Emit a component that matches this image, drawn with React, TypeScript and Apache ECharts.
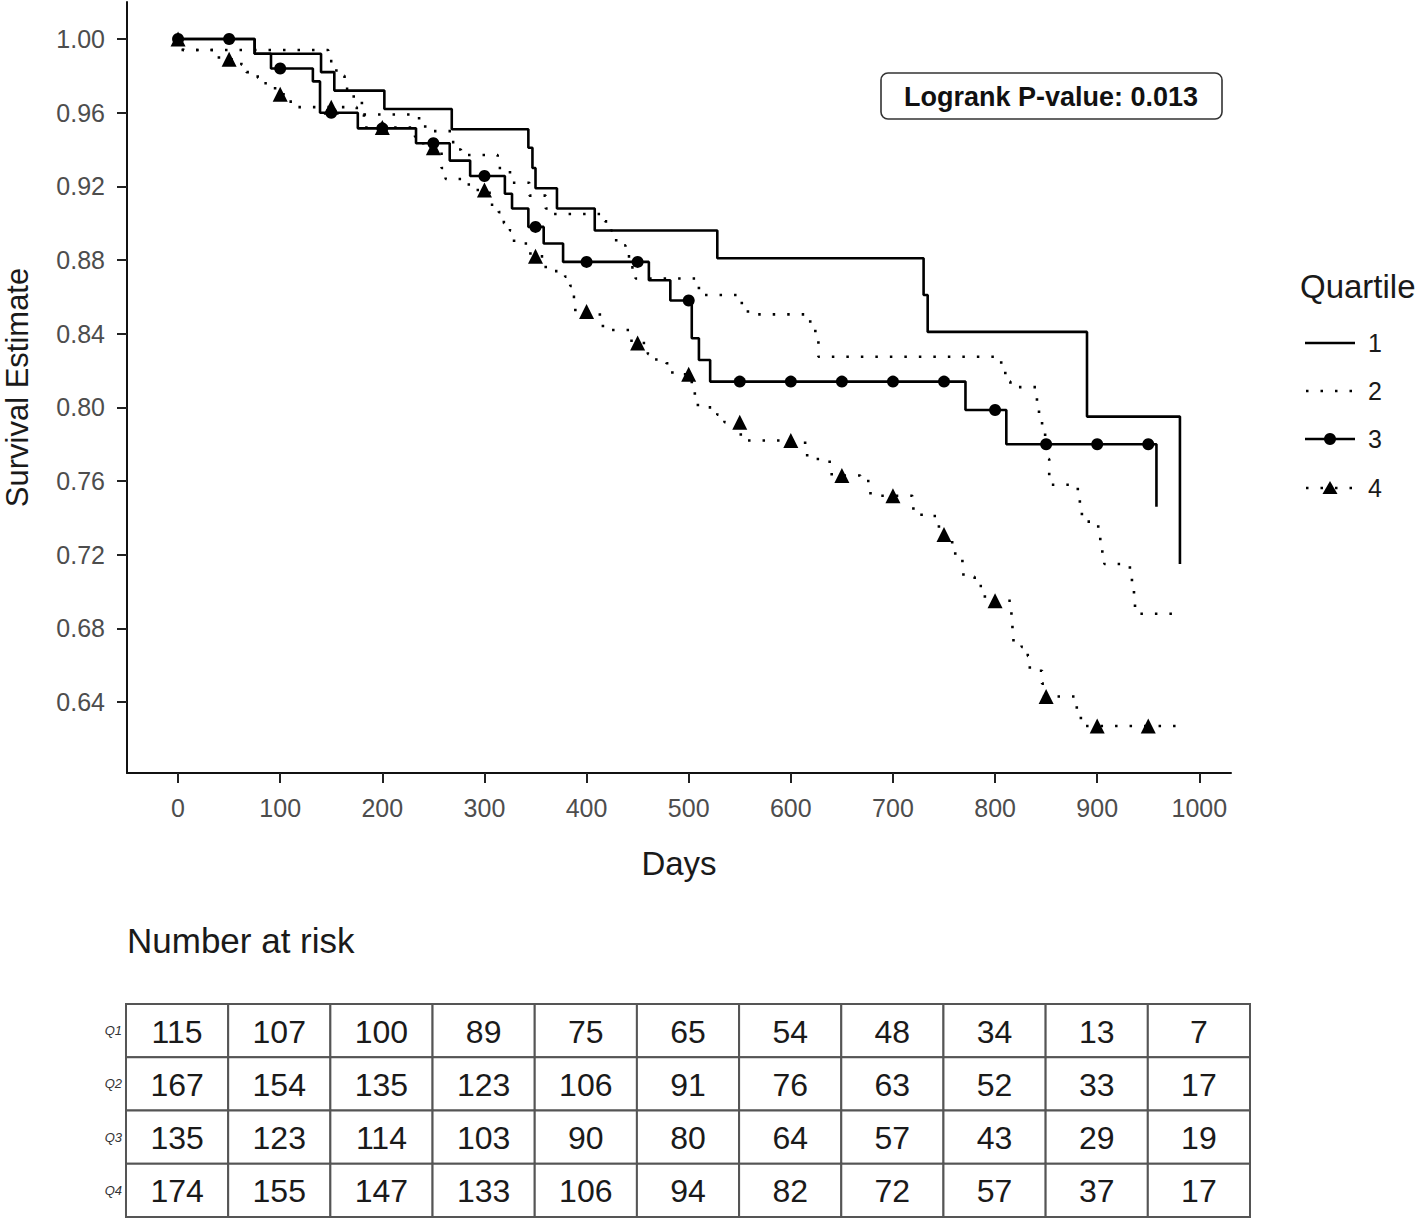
import React, { useEffect, useRef } from "react";
import * as echarts from "echarts";

const FONT = "Liberation Sans";

const xTickValues = [0, 100, 200, 300, 400, 500, 600, 700, 800, 900, 1000];
const yTickValues = [0.64, 0.68, 0.72, 0.76, 0.8, 0.84, 0.88, 0.92, 0.96, 1.0];
const markerDays = [0, 50, 100, 150, 200, 250, 300, 350, 400, 450, 500, 550, 600, 650, 700, 750, 800, 850, 900, 950];

// Kaplan-Meier steps: [day, survival from that day on]
const q1Steps: number[][] = [
  [0, 1.0], [75, 0.992], [140, 0.982], [153, 0.972], [202, 0.962], [268, 0.951], [343, 0.941],
  [347, 0.93], [350, 0.919], [371, 0.908], [408, 0.896], [528, 0.881], [730, 0.861], [734, 0.841],
  [890, 0.795], [981, 0.715],
];
const q2Steps: number[][] = [
  [0, 1.0], [3, 0.994], [147, 0.988], [155, 0.98], [163, 0.973], [172, 0.966], [180, 0.959],
  [236, 0.955], [242, 0.95], [268, 0.944], [274, 0.94], [277, 0.937], [313, 0.93], [325, 0.922],
  [344, 0.915], [360, 0.908], [366, 0.905], [418, 0.901], [424, 0.896], [429, 0.888], [438, 0.882],
  [443, 0.876], [448, 0.87], [510, 0.861], [552, 0.853], [558, 0.8505], [619, 0.843], [624, 0.836],
  [627, 0.8275], [806, 0.822], [810, 0.814], [815, 0.811], [841, 0.801], [843, 0.794], [846, 0.787],
  [849, 0.779], [851, 0.772], [853, 0.76], [855, 0.758], [881, 0.753], [883, 0.746], [885, 0.738],
  [896, 0.737], [901, 0.734], [903, 0.726], [905, 0.718], [907, 0.715], [932, 0.712], [934, 0.704],
  [936, 0.696], [937, 0.688], [981, 0.688],
];
const q3Steps: number[][] = [
  [0, 1.0], [75, 0.992], [91, 0.984], [132, 0.977], [139, 0.96], [176, 0.9515], [233, 0.9434],
  [266, 0.934], [286, 0.9256], [320, 0.916], [327, 0.908], [343, 0.898], [358, 0.889], [377, 0.879],
  [461, 0.869], [482, 0.858], [503, 0.8375], [510, 0.8257], [521, 0.814], [771, 0.7986], [811, 0.78],
  [958, 0.746],
];
const q4Steps: number[][] = [
  [0, 1.0], [5, 0.994], [40, 0.989], [62, 0.986], [67, 0.982], [78, 0.979], [84, 0.976], [95, 0.97],
  [106, 0.966], [112, 0.963], [175, 0.959], [182, 0.952], [232, 0.947], [240, 0.941], [258, 0.93],
  [262, 0.924], [280, 0.921], [290, 0.918], [305, 0.91], [314, 0.906], [319, 0.9], [325, 0.896],
  [329, 0.889], [345, 0.882], [360, 0.874], [379, 0.871], [384, 0.866], [386, 0.86], [389, 0.852],
  [413, 0.848], [416, 0.842], [444, 0.835], [460, 0.829], [465, 0.826], [478, 0.824], [484, 0.818],
  [503, 0.813], [506, 0.806], [509, 0.8], [528, 0.796], [535, 0.792], [551, 0.784], [558, 0.782],
  [614, 0.78], [616, 0.772], [638, 0.769], [640, 0.763], [668, 0.76], [678, 0.752], [719, 0.751],
  [720, 0.743], [728, 0.741], [745, 0.731], [758, 0.726], [761, 0.719], [768, 0.715], [769, 0.708],
  [780, 0.703], [790, 0.695], [816, 0.686], [817, 0.678], [818, 0.671], [826, 0.67], [832, 0.665],
  [834, 0.657], [846, 0.65], [848, 0.643], [880, 0.636], [884, 0.627], [978, 0.627],
];

const riskDays = ["0", "100", "200", "300", "400", "500", "600", "700", "800", "900", "1000"];
const riskGroups = ["Q1", "Q2", "Q3", "Q4"];
const riskQ1 = [115, 107, 100, 89, 75, 65, 54, 48, 34, 13, 7];
const riskQ2 = [167, 154, 135, 123, 106, 91, 76, 63, 52, 33, 17];
const riskQ3 = [135, 123, 114, 103, 90, 80, 64, 57, 43, 29, 19];
const riskQ4 = [174, 155, 147, 133, 106, 94, 82, 72, 57, 37, 17];

const pValueText = "Logrank P-value: 0.013";
const legendTitle = "Quartile";
const legendLabels = ["1", "2", "3", "4"];

function valueAt(steps: number[][], d: number): number {
  let v = steps[0][1];
  for (const [x, y] of steps) if (x <= d) v = y;
  return v;
}

const DOT = [2.5, 12];

export default function App() {
  const ref = useRef<HTMLDivElement>(null);
  useEffect(() => {
    document.body.style.margin = "0";
    if (!ref.current) return;
    const chart = echarts.init(ref.current, undefined, { renderer: "svg" });

    const riskRows = [riskQ1, riskQ2, riskQ3, riskQ4];
    const tableData: number[][] = [];
    riskRows.forEach((row, r) => row.forEach((v, c) => tableData.push([c, r, v])));

    const lineSeries = (name: string, steps: number[][], dashed: boolean) => ({
      name,
      type: "line",
      xAxisIndex: 0,
      yAxisIndex: 0,
      step: "end",
      symbol: "none",
      data: steps,
      lineStyle: { color: "#000", width: 2.6, type: dashed ? DOT : "solid", cap: "butt" },
      z: 3,
    });

    const legendY = [343, 391, 439, 488];

    chart.setOption({
      animation: false,
      textStyle: { fontFamily: FONT },
      grid: [
        { left: 127, top: 2, width: 1104, height: 771, containLabel: false, outerBoundsMode: "none" },
        { left: 126, top: 1004, width: 1124, height: 213, containLabel: false, outerBoundsMode: "none" },
      ],
      xAxis: [
        {
          type: "value",
          gridIndex: 0,
          min: -50,
          max: 1031,
          splitLine: { show: false },
          axisLine: { show: true, onZero: false, lineStyle: { color: "#111", width: 2 } },
          axisTick: { show: true, length: 10, lineStyle: { color: "#222", width: 2 }, customValues: xTickValues },
          axisLabel: {
            customValues: xTickValues,
            formatter: (v: number) => String(v),
            fontSize: 25,
            color: "#4d4d4d",
            margin: 22,
            fontFamily: FONT,
          },
          name: "Days",
          nameLocation: "middle",
          nameGap: 74,
          nameTextStyle: { fontSize: 33, color: "#1a1a1a", fontFamily: FONT },
        },
        {
          type: "category",
          gridIndex: 1,
          data: riskDays,
          show: false,
        },
      ],
      yAxis: [
        {
          type: "value",
          gridIndex: 0,
          min: 0.6015,
          max: 1.0201,
          splitLine: { show: false },
          axisLine: { show: true, onZero: false, lineStyle: { color: "#111", width: 2 } },
          axisTick: { show: true, length: 10, lineStyle: { color: "#222", width: 2 }, customValues: yTickValues },
          axisLabel: {
            customValues: yTickValues,
            formatter: (v: number) => v.toFixed(2),
            fontSize: 25,
            color: "#4d4d4d",
            margin: 22,
            fontFamily: FONT,
          },
          name: "Survival Estimate",
          nameLocation: "middle",
          nameGap: 94,
          nameRotate: 90,
          nameTextStyle: { fontSize: 31, color: "#1a1a1a", fontFamily: FONT },
        },
        {
          type: "category",
          gridIndex: 1,
          data: riskGroups,
          inverse: true,
          axisLine: { show: false },
          axisTick: { show: false },
          splitLine: { show: false },
          axisLabel: { fontSize: 13, fontStyle: "italic", color: "#333", margin: 4, fontFamily: FONT },
        },
      ],
      series: [
        lineSeries("1", q1Steps, false),
        lineSeries("2", q2Steps, true),
        lineSeries("3", q3Steps, false),
        lineSeries("4", q4Steps, true),
        {
          name: "3 markers",
          type: "scatter",
          symbol: "circle",
          symbolSize: 12,
          itemStyle: { color: "#000", opacity: 1 },
          data: markerDays.map((d) => [d, valueAt(q3Steps, d)]),
          z: 4,
        },
        {
          name: "4 markers",
          type: "scatter",
          symbol: "triangle",
          symbolSize: 15,
          itemStyle: { color: "#000", opacity: 1 },
          data: markerDays.map((d) => [d, valueAt(q4Steps, d)]),
          z: 4,
        },
        {
          name: "at risk",
          type: "custom",
          xAxisIndex: 1,
          yAxisIndex: 1,
          data: tableData,
          renderItem: (params: any, api: any) => {
            const c = api.coord([api.value(0), api.value(1)]);
            const s = api.size([1, 1]);
            return {
              type: "group",
              children: [
                {
                  type: "rect",
                  shape: { x: c[0] - s[0] / 2, y: c[1] - s[1] / 2, width: s[0], height: s[1] },
                  style: { fill: "#fff", stroke: "#555", lineWidth: 2 },
                },
                {
                  type: "text",
                  style: {
                    text: String(api.value(2)),
                    x: c[0],
                    y: c[1] + 1,
                    align: "center",
                    verticalAlign: "middle",
                    fontSize: 32,
                    fontFamily: FONT,
                    fill: "#1a1a1a",
                  },
                },
              ],
            };
          },
        },
      ],
      graphic: [
        {
          type: "rect",
          shape: { x: 881, y: 73, width: 341, height: 46, r: 7 },
          style: { fill: "#fff", stroke: "#333", lineWidth: 1.6 },
          z: 10,
        },
        {
          type: "text",
          x: 1051,
          y: 97,
          style: {
            text: pValueText,
            align: "center",
            verticalAlign: "middle",
            fontSize: 27,
            fontWeight: "bold",
            fontFamily: FONT,
            fill: "#111",
          },
          z: 11,
        },
        {
          type: "text",
          x: 1300,
          y: 286,
          style: { text: legendTitle, verticalAlign: "middle", fontSize: 33, fontFamily: FONT, fill: "#1a1a1a" },
        },
        ...legendLabels.map((t, i) => ({
          type: "text",
          x: 1368,
          y: legendY[i],
          style: { text: t, verticalAlign: "middle", fontSize: 25, fontFamily: FONT, fill: "#1a1a1a" },
        })),
        {
          type: "line",
          shape: { x1: 1305, y1: legendY[0], x2: 1355, y2: legendY[0] },
          style: { stroke: "#000", lineWidth: 2.6 },
        },
        {
          type: "line",
          shape: { x1: 1306, y1: legendY[1], x2: 1355, y2: legendY[1] },
          style: { stroke: "#000", lineWidth: 2.6, lineDash: DOT },
        },
        {
          type: "line",
          shape: { x1: 1305, y1: legendY[2], x2: 1355, y2: legendY[2] },
          style: { stroke: "#000", lineWidth: 2.6 },
        },
        {
          type: "circle",
          shape: { cx: 1330, cy: legendY[2], r: 6 },
          style: { fill: "#000" },
        },
        {
          type: "line",
          shape: { x1: 1306, y1: legendY[3], x2: 1355, y2: legendY[3] },
          style: { stroke: "#000", lineWidth: 2.6, lineDash: DOT },
        },
        {
          type: "polygon",
          shape: { points: [[1330, legendY[3] - 7], [1337.5, legendY[3] + 6], [1322.5, legendY[3] + 6]] },
          style: { fill: "#000" },
        },
        {
          type: "text",
          x: 127,
          y: 940,
          style: { text: "Number at risk", verticalAlign: "middle", fontSize: 35, fontFamily: FONT, fill: "#1a1a1a" },
        },
      ],
    });
    return () => chart.dispose();
  }, []);
  return <div ref={ref} style={{ width: 1420, height: 1220 }} />;
}
